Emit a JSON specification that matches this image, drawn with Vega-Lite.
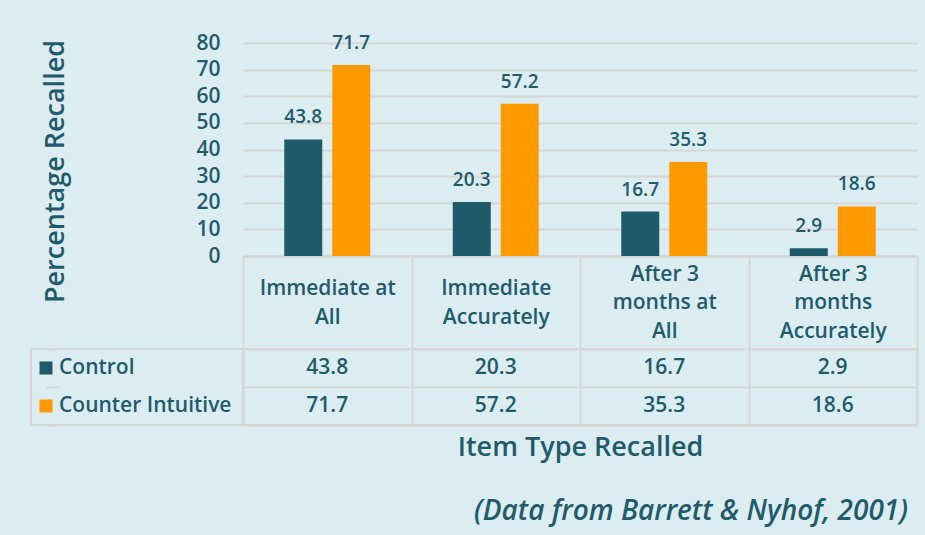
{
  "$schema": "https://vega.github.io/schema/vega-lite/v6.json",
  "background": "#dcedf1",
  "padding": {"left": 30, "top": 32, "right": 8, "bottom": 16},
  "config": {
    "view": {"stroke": null},
    "font": "Open Sans",
    "axis": {"labelFont": "Open Sans", "titleFont": "Open Sans", "labelColor": "#1f5b6b", "titleColor": "#1f5b6b", "labelFontWeight": 600, "titleFontWeight": 600}
  },
  "datasets": {
    "recall": [
      {"item": "Immediate at All", "group": "Control", "pct": 43.8},
      {"item": "Immediate at All", "group": "Counter Intuitive", "pct": 71.7},
      {"item": "Immediate Accurately", "group": "Control", "pct": 20.3},
      {"item": "Immediate Accurately", "group": "Counter Intuitive", "pct": 57.2},
      {"item": "After 3 months at All", "group": "Control", "pct": 16.7},
      {"item": "After 3 months at All", "group": "Counter Intuitive", "pct": 35.3},
      {"item": "After 3 months Accurately", "group": "Control", "pct": 2.9},
      {"item": "After 3 months Accurately", "group": "Counter Intuitive", "pct": 18.6}
    ],
    "groups": [{"group": "Control"}, {"group": "Counter Intuitive"}]
  },
  "title": {
    "text": "(Data from Barrett & Nyhof, 2001)",
    "orient": "bottom",
    "anchor": "end",
    "font": "Open Sans",
    "fontStyle": "italic",
    "fontWeight": 600,
    "fontSize": 28,
    "color": "#1f5b6b",
    "offset": 37,
    "dx": -10
  },
  "columns": 2,
  "spacing": {"row": 93, "column": 0},
  "bounds": "flush",
  "align": "each",
  "concat": [
    {
      "width": 212,
      "height": 213,
      "data": {"values": []},
      "mark": "point"
    },
    {
      "width": 674,
      "height": 213,
      "data": {"name": "recall"},
      "encoding": {
        "x": {
          "field": "item",
          "type": "nominal",
          "sort": ["Immediate at All", "Immediate Accurately", "After 3 months at All", "After 3 months Accurately"],
          "scale": {"type": "band", "paddingInner": 0, "paddingOuter": 0},
          "axis": {
            "title": null,
            "labelAngle": 0,
            "domain": true,
            "domainColor": "#d6d6d6",
            "domainWidth": 2,
            "ticks": true,
            "tickBand": "extent",
            "tickSize": 93,
            "tickColor": "#d6d6d6",
            "tickWidth": 2,
            "grid": false,
            "labelPadding": {"condition": {"test": "datum.value == 'After 3 months at All' || datum.value == 'After 3 months Accurately'", "value": -74.7}, "value": -60.5},
            "labelBaseline": "middle",
            "labelFontSize": 21,
            "labelLineHeight": 28.5,
            "labelLimit": 0,
            "labelOverlap": false,
            "labelExpr": "datum.label == 'Immediate at All' ? ['Immediate at', 'All'] : datum.label == 'Immediate Accurately' ? ['Immediate', 'Accurately'] : datum.label == 'After 3 months at All' ? ['After 3', 'months at', 'All'] : datum.label == 'After 3 months Accurately' ? ['After 3', 'months', 'Accurately'] : ''"
          }
        },
        "xOffset": {
          "field": "group",
          "type": "nominal",
          "sort": ["Control", "Counter Intuitive"],
          "scale": {"paddingInner": 0.208, "paddingOuter": 0.86}
        },
        "y": {
          "field": "pct",
          "type": "quantitative",
          "scale": {"domain": [0, 80]},
          "axis": {
            "title": "Percentage Recalled",
            "values": [0, 10, 20, 30, 40, 50, 60, 70, 80],
            "grid": true,
            "gridColor": "#d6d6d6",
            "gridWidth": 2,
            "domain": false,
            "ticks": false,
            "labelPadding": 23,
            "labelFontSize": 21,
            "titleFontSize": 27,
            "titleX": -188,
            "titleY": 128,
            "titleBaseline": "middle",
            "titleAngle": -90
          }
        }
      },
      "layer": [
        {
          "mark": {"type": "bar"},
          "encoding": {
            "color": {
              "field": "group",
              "type": "nominal",
              "scale": {"domain": ["Control", "Counter Intuitive"], "range": ["#1f5a6a", "#ff9900"]},
              "legend": null
            }
          }
        },
        {
          "mark": {"type": "text", "dy": -22, "baseline": "middle", "fontSize": 19, "fontWeight": 600, "color": "#1f5b6b", "font": "Open Sans"},
          "encoding": {
            "text": {"field": "pct", "type": "quantitative", "format": ".1f"}
          }
        }
      ]
    },
    {
      "width": 212,
      "height": 76,
      "data": {"name": "groups"},
      "view": {"stroke": "#d6d6d6", "strokeWidth": 2},
      "encoding": {
        "y": {
          "field": "group",
          "type": "nominal",
          "scale": {"type": "band", "domain": ["Control", "Counter Intuitive"], "paddingInner": 0, "paddingOuter": 0},
          "axis": {"title": null, "labels": false, "ticks": false, "domain": false, "grid": true, "tickBand": "extent", "gridColor": "#d6d6d6", "gridWidth": 2}
        }
      },
      "layer": [
        {
          "mark": {"type": "square", "size": 169, "opacity": 1, "filled": true},
          "encoding": {
            "x": {"datum": "swatch", "type": "nominal", "scale": {"type": "point", "domain": ["swatch", "name"], "range": [15, 28], "padding": 0}, "axis": null},
            "color": {
              "field": "group",
              "type": "nominal",
              "scale": {"domain": ["Control", "Counter Intuitive"], "range": ["#1f5a6a", "#ff9900"]},
              "legend": null
            }
          }
        },
        {
          "mark": {"type": "text", "align": "left", "baseline": "middle", "fontSize": 21, "fontWeight": 600, "color": "#1f5b6b", "font": "Open Sans"},
          "encoding": {
            "x": {"datum": "name", "type": "nominal"},
            "text": {"field": "group", "type": "nominal"}
          }
        }
      ]
    },
    {
      "width": 674,
      "height": 76,
      "data": {"name": "recall"},
      "view": {"stroke": "#d6d6d6", "strokeWidth": 2},
      "mark": {"type": "text", "baseline": "middle", "fontSize": 21, "fontWeight": 600, "color": "#1f5b6b", "font": "Open Sans"},
      "encoding": {
        "x": {
          "field": "item",
          "type": "nominal",
          "sort": ["Immediate at All", "Immediate Accurately", "After 3 months at All", "After 3 months Accurately"],
          "scale": {"type": "band", "paddingInner": 0, "paddingOuter": 0},
          "axis": {"title": "Item Type Recalled", "labels": false, "ticks": false, "domain": false, "grid": true, "tickBand": "extent", "gridColor": "#d6d6d6", "gridWidth": 2, "titleFontSize": 27, "titlePadding": 9}
        },
        "y": {
          "field": "group",
          "type": "nominal",
          "scale": {"type": "band", "domain": ["Control", "Counter Intuitive"], "paddingInner": 0, "paddingOuter": 0},
          "axis": {"title": null, "labels": false, "ticks": false, "domain": false, "grid": true, "tickBand": "extent", "gridColor": "#d6d6d6", "gridWidth": 2}
        },
        "text": {"field": "pct", "type": "quantitative", "format": ".1f"}
      }
    }
  ]
}
